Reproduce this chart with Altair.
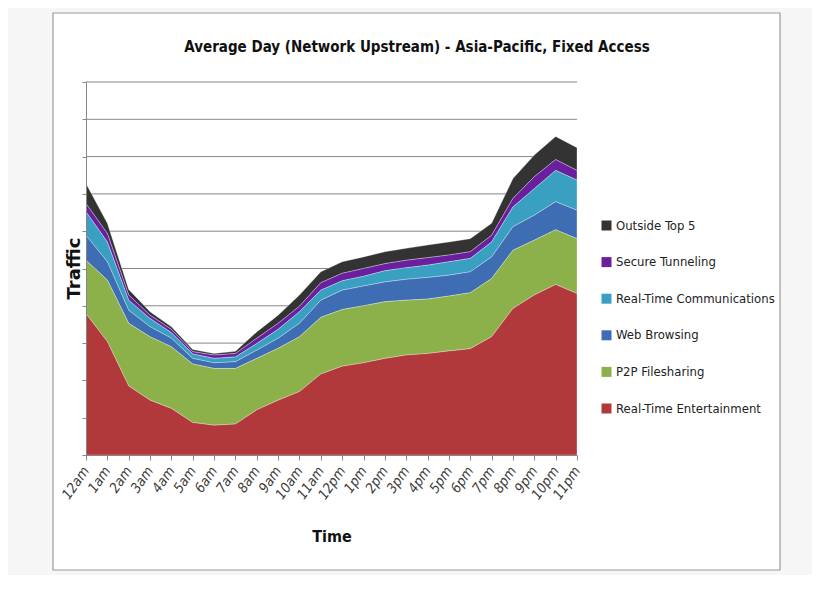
import altair as alt
import pandas as pd

hours = ["12am", "1am", "2am", "3am", "4am", "5am", "6am", "7am", "8am", "9am", "10am", "11am",
         "12pm", "1pm", "2pm", "3pm", "4pm", "5pm", "6pm", "7pm", "8pm", "9pm", "10pm", "11pm"]

series = ["Outside Top 5", "Secure Tunneling", "Real-Time Communications",
          "Web Browsing", "P2P Filesharing", "Real-Time Entertainment"]
colors = ["#333333", "#6a1f9e", "#3aa0c2", "#3e6db4", "#8cb14a", "#b1393b"]

real_time_entertainment = [3.79, 3.04, 1.85, 1.47, 1.25, 0.87, 0.80, 0.83, 1.21, 1.47, 1.70, 2.17,
                           2.38, 2.47, 2.59, 2.68, 2.72, 2.79, 2.85, 3.17, 3.93, 4.29, 4.57, 4.33]
p2p_filesharing = [1.43, 1.65, 1.68, 1.70, 1.65, 1.57, 1.52, 1.49, 1.38, 1.39, 1.47, 1.52,
                   1.52, 1.53, 1.52, 1.47, 1.46, 1.47, 1.50, 1.56, 1.56, 1.47, 1.47, 1.47]
web_browsing = [0.67, 0.49, 0.35, 0.27, 0.23, 0.15, 0.15, 0.18, 0.22, 0.27, 0.36, 0.46,
                0.52, 0.53, 0.53, 0.56, 0.58, 0.56, 0.56, 0.58, 0.63, 0.67, 0.75, 0.76]
real_time_comms = [0.63, 0.53, 0.27, 0.22, 0.15, 0.12, 0.12, 0.13, 0.18, 0.24, 0.31, 0.27,
                   0.25, 0.26, 0.30, 0.31, 0.33, 0.36, 0.36, 0.40, 0.53, 0.71, 0.84, 0.81]
secure_tunneling = [0.22, 0.23, 0.14, 0.09, 0.09, 0.06, 0.09, 0.09, 0.14, 0.16, 0.15, 0.20,
                    0.20, 0.21, 0.19, 0.20, 0.20, 0.18, 0.18, 0.18, 0.23, 0.32, 0.29, 0.26]
outside_top5 = [0.54, 0.27, 0.15, 0.09, 0.07, 0.06, 0.04, 0.06, 0.17, 0.22, 0.30, 0.29,
                0.31, 0.31, 0.32, 0.32, 0.34, 0.35, 0.35, 0.32, 0.53, 0.58, 0.62, 0.61]

gridlines = list(range(0, 11))
title_text = "Average Day (Network Upstream) - Asia-Pacific, Fixed Access"

values_by_series = [outside_top5, secure_tunneling, real_time_comms,
                    web_browsing, p2p_filesharing, real_time_entertainment]
rows = []
for si, (name, vals) in enumerate(zip(series, values_by_series)):
    for h, v in zip(hours, vals):
        rows.append({"hour": h, "series": name, "value": v, "stack": len(series) - 1 - si})
df = pd.DataFrame(rows)
grid_df = pd.DataFrame({"g": gridlines})

FONT = "DejaVu Sans Condensed"

y_axis = alt.Axis(title="Traffic", labels=False, values=gridlines, tickSize=4,
                  tickColor="#868686", domainColor="#868686", grid=False, zindex=1,
                  titleFont="DejaVu Sans", titleFontSize=18,
                  titleFontWeight="bold", titleColor="#111111",
                  titleAngle=270, titleX=-3, titleY=186, titleAlign="center",
                  titleBaseline="bottom")
y_scale = alt.Scale(domain=[0, 10], nice=False)

frame = alt.Chart(pd.DataFrame({"a": [0]})).mark_rect(
    fill="white", stroke="#9a9a9a", strokeWidth=1.2
).encode(
    x=alt.value(-33), x2=alt.value(694), y=alt.value(-69), y2=alt.value(488)
)

title = alt.Chart(pd.DataFrame({"t": [title_text]})).mark_text(
    font=FONT, fontSize=15, fontWeight="bold", color="#111111", align="center", baseline="middle"
).encode(
    text="t:N", x=alt.value(331), y=alt.value(-35)
)

grid = alt.Chart(grid_df).mark_rule(color="#868686", strokeWidth=1).encode(
    y=alt.Y("g:Q", scale=y_scale, axis=y_axis)
)

area = alt.Chart(df).mark_area(
    stroke="white", strokeWidth=0.6, strokeOpacity=0.5, opacity=1
).encode(
    x=alt.X("hour:N", sort=hours, scale=alt.Scale(type="point", padding=0),
            axis=alt.Axis(title="Time", labelAngle=-55, labelAlign="right", labelBaseline="middle",
                          labelFont=FONT, labelFontSize=14, labelColor="#404040", labelPadding=8,
                          labelFontStyle="italic",
                          tickSize=5, tickColor="#868686", domainColor="#868686",
                          titleFont=FONT, titleFontSize=16, titleFontWeight="bold", titleColor="#111111",
                          titlePadding=27, grid=False, zindex=1)),
    y=alt.Y("value:Q", stack="zero", scale=y_scale, axis=y_axis),
    color=alt.Color("series:N", sort=series, scale=alt.Scale(domain=series, range=colors),
                    legend=alt.Legend(title=None, orient="none", legendX=514, legendY=137,
                                      symbolType="square", symbolSize=100, symbolStrokeWidth=0,
                                      labelFont=FONT, labelFontSize=13, labelColor="#222222",
                                      labelLimit=0, rowPadding=22.6, labelOffset=3)),
    order=alt.Order("stack:Q", sort="ascending"),
)

chart = alt.layer(frame, grid, area, title).properties(
    width=491, height=373,
    autosize=alt.AutoSizeParams(type="none"),
    padding={"left": 78, "top": 74, "right": 235, "bottom": 120},
    background="#f6f6f6",
).configure_view(stroke=None)

chart.save("out.html", embed_options={"renderer": "svg", "actions": False})
